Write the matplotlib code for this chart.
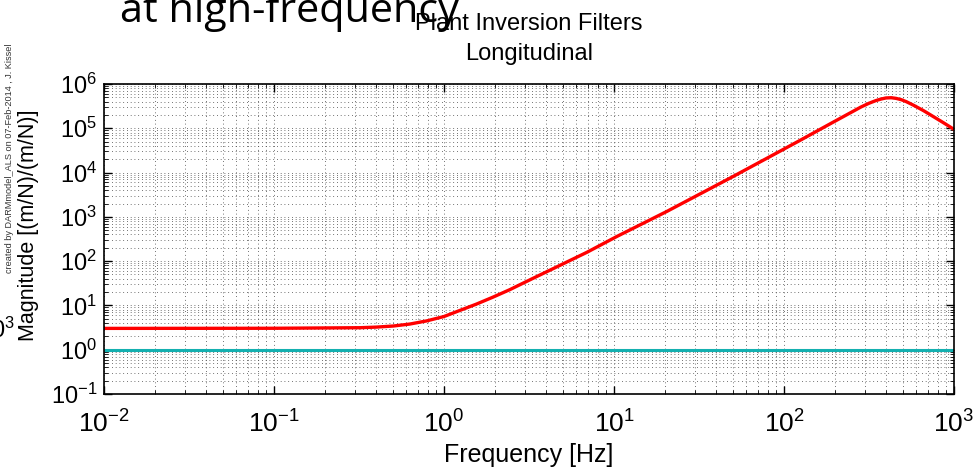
import matplotlib
matplotlib.use("Agg")
import matplotlib.pyplot as plt
import numpy as np
from matplotlib.ticker import LogLocator, NullFormatter

plt.rcParams['font.family'] = ['Liberation Sans', 'DejaVu Sans']
plt.rcParams['mathtext.fontset'] = 'custom'
plt.rcParams['mathtext.rm'] = 'Liberation Sans'
plt.rcParams['mathtext.it'] = 'Liberation Sans:italic'
plt.rcParams['mathtext.bf'] = 'Liberation Sans:bold'

# plant inversion magnitude
freq = [0.01, 0.1, 0.321, 0.40, 0.504, 0.63, 0.79, 1.0, 1.24, 1.55, 1.95,
        2.45, 3.06, 3.72, 4.60, 6.92, 10.4, 20.4, 50.1, 124, 195, 251,
        282, 316, 347, 372, 398, 427, 457, 490, 525, 575, 661, 759, 871, 1000]
plant_inv = [3.03, 3.05, 3.14, 3.24, 3.43, 3.80, 4.47, 5.62, 7.71, 10.7, 15.5,
             22.9, 34.8, 50, 74, 158, 361, 1318, 8130, 5.31e4, 1.38e5, 2.34e5,
             2.99e5, 3.67e5, 4.22e5, 4.57e5, 4.84e5, 4.90e5, 4.73e5, 4.42e5,
             3.98e5, 3.35e5, 2.51e5, 1.82e5, 1.32e5, 9.44e4]

unity_f = [0.01, 1000]
unity = [1.0, 1.0]

fig = plt.figure(figsize=(9.73, 4.70), dpi=100)
ax = fig.add_axes([104/973, 76/470, 850/973, 310/470])

ax.loglog(unity_f, unity, color='#14b0b0', lw=2.2)
ax.loglog(freq, plant_inv, color='red', lw=2.4)

ax.set_xlim(1e-2, 1e3)
ax.set_ylim(1e-1, 1e6)
ax.xaxis.set_major_locator(LogLocator(base=10, numticks=10))
ax.yaxis.set_major_locator(LogLocator(base=10, numticks=10))
ax.xaxis.set_minor_locator(LogLocator(base=10, subs=np.arange(2, 10), numticks=20))
ax.yaxis.set_minor_locator(LogLocator(base=10, subs=np.arange(2, 10), numticks=20))
ax.xaxis.set_minor_formatter(NullFormatter())
ax.yaxis.set_minor_formatter(NullFormatter())

ax.grid(True, which='both', linestyle=(0, (1, 3.5)), color='#444444', lw=0.6)
ax.tick_params(which='both', direction='in', top=True, right=True)
ax.tick_params(axis='y', labelsize=17, pad=5)
ax.tick_params(axis='x', labelsize=19, pad=12)
ax.tick_params(which='major', length=6, width=1)
ax.tick_params(which='minor', length=3, width=0.6)
for s in ax.spines.values():
    s.set_linewidth(1.2)

ax.set_xlabel('Frequency [Hz]', fontsize=18, labelpad=4)
ax.set_ylabel('Magnitude [(m/N)/(m/N)]', fontsize=15.5)
ax.yaxis.set_label_coords(-0.077, 0.545)
ax.set_title('Plant Inversion Filters\nLongitudinal', fontsize=17, pad=17,
             linespacing=1.5)

fig.text(0.0095, 0.419, 'created by DARMmodel_ALS on 07-Feb-2014 , J. Kissel',
         rotation=90, fontsize=6.6, color='#333333', ha='center', va='bottom')
fig.text(-0.023, 0.298, '10$^3$', fontsize=17, ha='left', va='center')
fig.text(0.123, 0.953, 'at high-frequency', fontsize=29.8, family=['Open Sans', 'DejaVu Sans'],
         ha='left', va='baseline')

fig.savefig('out.png', dpi=100)
